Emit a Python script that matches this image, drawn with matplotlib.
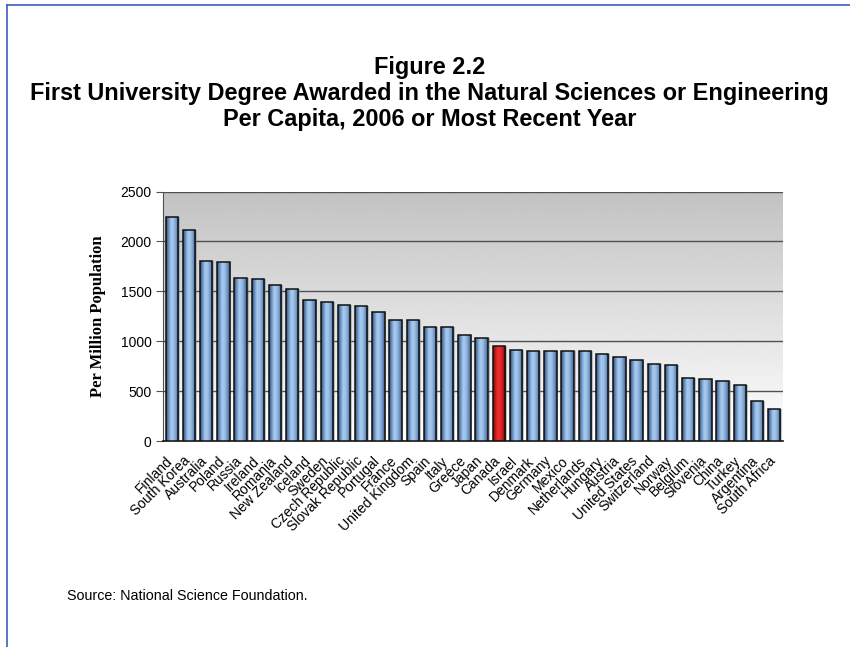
import numpy as np
import matplotlib
matplotlib.use('Agg')
import matplotlib.pyplot as plt
import matplotlib.transforms as mtransforms
from matplotlib.colors import LinearSegmentedColormap
from matplotlib.lines import Line2D

countries = ['Finland', 'South Korea', 'Australia', 'Poland', 'Russia', 'Ireland',
             'Romania', 'New Zealand', 'Iceland', 'Sweden', 'Czech Republic',
             'Slovak Republic', 'Portugal', 'France', 'United Kingdom', 'Spain',
             'Italy', 'Greece', 'Japan', 'Canada', 'Israel', 'Denmark', 'Germany',
             'Mexico', 'Netherlands', 'Hungary', 'Austria', 'United States',
             'Switzerland', 'Norway', 'Belgium', 'Slovenia', 'China', 'Turkey',
             'Argentina', 'South Africa']
degrees = [2246, 2111, 1804, 1794, 1630, 1623, 1569, 1529, 1419, 1392, 1362,
           1355, 1292, 1218, 1218, 1141, 1141, 1068, 1034, 954, 917, 907, 907,
           907, 907, 877, 846, 810, 777, 766, 630, 619, 602, 561, 402, 318]
highlight = 'Canada'
yticks = [0, 500, 1000, 1500, 2000, 2500]

plt.rcParams['font.family'] = ['Liberation Sans', 'DejaVu Sans']

fig = plt.figure(figsize=(8.5, 6.47), dpi=100)
ax = fig.add_axes([0.192, 0.318, 0.729, 0.386])

x = np.arange(len(countries))
ax.set_xlim(-0.5, len(countries) - 0.5)
ax.set_ylim(0, 2500)

# grey-to-white backdrop behind the bars
bg = np.linspace(0.76, 1.0, 256).reshape(-1, 1)
ax.imshow(bg, cmap='gray', vmin=0, vmax=1, aspect='auto', origin='upper',
          extent=[-0.5, len(countries) - 0.5, 0, 2500], zorder=0)

for t in yticks[1:]:
    ax.axhline(t, color='#505050', lw=1.0, zorder=1)

blue = LinearSegmentedColormap.from_list(
    'cyl_blue', ['#2e4a6c', '#6a92c0', '#a9cbef', '#9cbfe6', '#6f98c6', '#3a5a82'])
red = LinearSegmentedColormap.from_list(
    'cyl_red', ['#6a1010', '#c81c1c', '#f03030', '#e42626', '#b01818', '#701010'])
shade = np.linspace(0, 1, 64).reshape(1, -1)

width = 0.72
# soft drop shadow
ax.bar(x + 0.1, degrees, width=width, color='#808080', alpha=0.45, zorder=2)
bars = ax.bar(x, degrees, width=width, facecolor='none', edgecolor='#111111',
              lw=1.1, zorder=4)
for name, b in zip(countries, bars):
    cmap = red if name == highlight else blue
    im = ax.imshow(shade, cmap=cmap, aspect='auto',
                   extent=[b.get_x(), b.get_x() + b.get_width(), 0, b.get_height()],
                   zorder=3)
    im.set_clip_path(b)

ax.set_xticks(x)
ax.set_xticklabels(countries, rotation=45, ha='right', va='top',
                   rotation_mode='anchor', fontsize=10)
ax.tick_params(axis='x', length=0, pad=9)
# nudge the slanted names a little to the left
shift = mtransforms.ScaledTranslation(-6 / 100, 0, fig.dpi_scale_trans)
for lab in ax.get_xticklabels():
    lab.set_transform(lab.get_transform() + shift)
ax.set_yticks(yticks)
ax.tick_params(axis='y', labelsize=10, length=5, color='#505050')

for s in ['top', 'right']:
    ax.spines[s].set_visible(False)
ax.spines['left'].set_color('#505050')
ax.spines['bottom'].set_color('#111111')
ax.spines['bottom'].set_linewidth(1.2)

ax.set_ylabel('Per Million Population', family='Liberation Serif',
              fontweight='bold', fontsize=12, labelpad=10)

fig.text(0.505, 0.856, 'Figure 2.2\nFirst University Degree Awarded in the Natural Sciences or Engineering\nPer Capita, 2006 or Most Recent Year',
         ha='center', va='center', fontsize=16.9, fontweight='bold', linespacing=1.16)
fig.text(0.079, 0.072, 'Source: National Science Foundation.', fontsize=10.3)

# frame along top and left
fig.add_artist(Line2D([0.008, 0.008], [0, 0.992], color='#3f5fbf', lw=1.2,
                      transform=fig.transFigure))
fig.add_artist(Line2D([0.008, 1.0], [0.992, 0.992], color='#3f5fbf', lw=1.2,
                      transform=fig.transFigure))

fig.savefig('out.png', dpi=100)
